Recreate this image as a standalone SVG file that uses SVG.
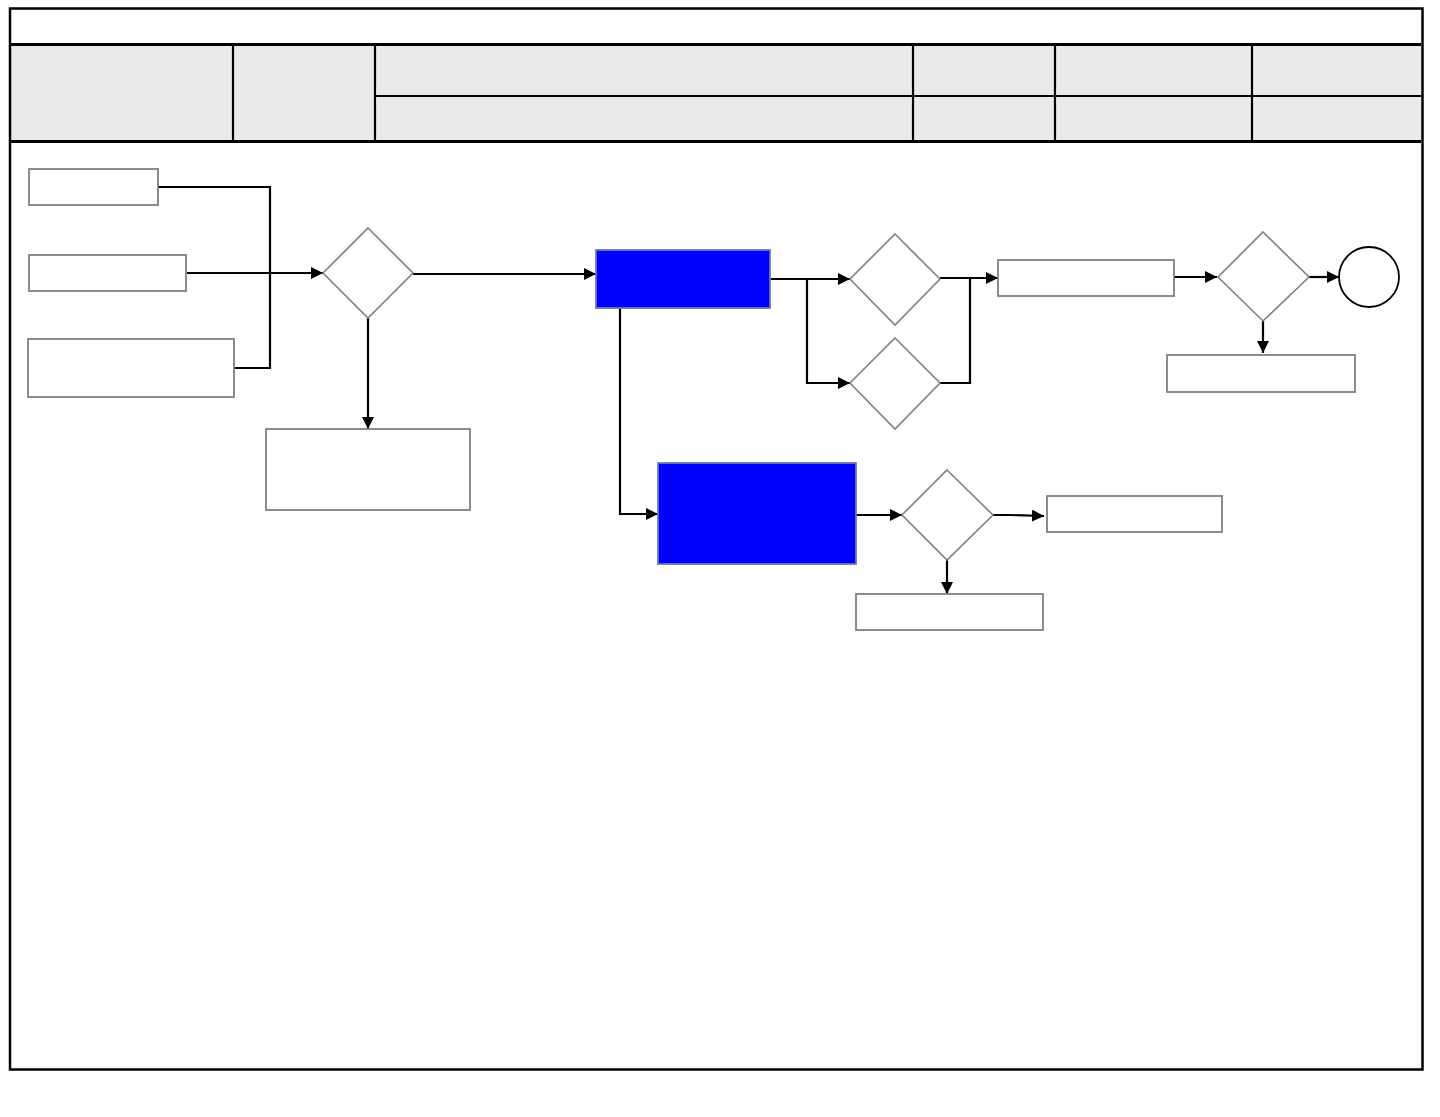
<svg xmlns="http://www.w3.org/2000/svg" width="1440" height="1117" viewBox="0 0 1440 1117">
<style>
.frame{fill:none;stroke:#000;stroke-width:2.5}
.hl{stroke:#000;stroke-width:3}
.hl2{stroke:#000;stroke-width:2.2}
.box{fill:#fff;stroke:#808080;stroke-width:1.8}
.blue{fill:#0000FF;stroke:#6A78B0;stroke-width:1.8}
.dia{fill:#fff;stroke:#808080;stroke-width:1.6}
.conn{fill:none;stroke:#000;stroke-width:2.2}
.arr{marker-end:url(#ah)}
</style>
<defs>
<marker id="ah" viewBox="0 0 10 10" refX="10" refY="5" markerWidth="12" markerHeight="12" markerUnits="userSpaceOnUse" orient="auto">
<path d="M0,0 L10,5 L0,10 z" fill="#000"/>
</marker>
</defs>
<rect width="1440" height="1117" fill="#fff"/>
<g id="header">
<rect x="10" y="45" width="1411" height="96" fill="#EAEAEA"/>
<line class="hl" x1="10" y1="44.5" x2="1421" y2="44.5"/>
<line class="hl" x1="10" y1="141.5" x2="1421" y2="141.5"/>
<line class="hl2" x1="375" y1="96" x2="1421" y2="96"/>
<line class="hl2" x1="233" y1="44" x2="233" y2="141"/>
<line class="hl2" x1="375" y1="44" x2="375" y2="141"/>
<line class="hl2" x1="913" y1="44" x2="913" y2="141"/>
<line class="hl2" x1="1055" y1="44" x2="1055" y2="141"/>
<line class="hl2" x1="1252" y1="44" x2="1252" y2="141"/>
<rect class="frame" x="10" y="8.5" width="1412.5" height="1061"/>
</g>
<g id="connectors">
<polyline class="conn" points="158,187 270,187 270,368 234,368"/>
<line class="conn arr" x1="187" y1="273" x2="323" y2="273"/>
<line class="conn arr" x1="413" y1="274" x2="596" y2="274"/>
<line class="conn arr" x1="368" y1="318" x2="368" y2="429"/>
<line class="conn arr" x1="770" y1="279" x2="850" y2="279"/>
<polyline class="conn arr" points="807,279 807,383 850,383"/>
<line class="conn arr" x1="940" y1="278" x2="998" y2="278"/>
<polyline class="conn" points="940,383 970,383 970,278"/>
<line class="conn arr" x1="1174" y1="277" x2="1217" y2="277"/>
<line class="conn arr" x1="1309" y1="277" x2="1339" y2="277"/>
<line class="conn arr" x1="1263" y1="321" x2="1263" y2="353"/>
<polyline class="conn arr" points="620,308 620,514 658,514"/>
<line class="conn arr" x1="856" y1="515" x2="902" y2="515"/>
<polyline class="conn arr" points="993,515 1010,515 1044,516"/>
<line class="conn arr" x1="947" y1="560" x2="947" y2="594"/>
</g>
<g id="nodeA"><rect class="box" x="29" y="169" width="129" height="36"/></g>
<g id="nodeB"><rect class="box" x="29" y="255" width="157" height="36"/></g>
<g id="nodeC"><rect class="box" x="28" y="339" width="206" height="58"/></g>
<g id="d1"><polygon class="dia" points="368,228 413,273 368,318 323,273"/></g>
<g id="nodeE"><rect class="box" x="266" y="429" width="204" height="81"/></g>
<g id="nodeF"><rect class="blue" x="596" y="250" width="174" height="58"/></g>
<g id="d2"><polygon class="dia" points="895,234 940,279 895,325 850,279"/></g>
<g id="d3"><polygon class="dia" points="895,338 940,383 895,429 850,383"/></g>
<g id="nodeG"><rect class="box" x="998" y="260" width="176" height="36"/></g>
<g id="d4"><polygon class="dia" points="1263,232 1309,277 1263,321 1218,277"/></g>
<g id="end"><circle cx="1369" cy="277" r="30" fill="#fff" stroke="#000" stroke-width="1.8"/></g>
<g id="nodeH"><rect class="box" x="1167" y="355" width="188" height="37"/></g>
<g id="nodeI"><rect class="blue" x="658" y="463" width="198" height="101"/></g>
<g id="d5"><polygon class="dia" points="947,470 993,515 947,560 902,515"/></g>
<g id="nodeJ"><rect class="box" x="1047" y="496" width="175" height="36"/></g>
<g id="nodeK"><rect class="box" x="856" y="594" width="187" height="36"/></g>
</svg>
